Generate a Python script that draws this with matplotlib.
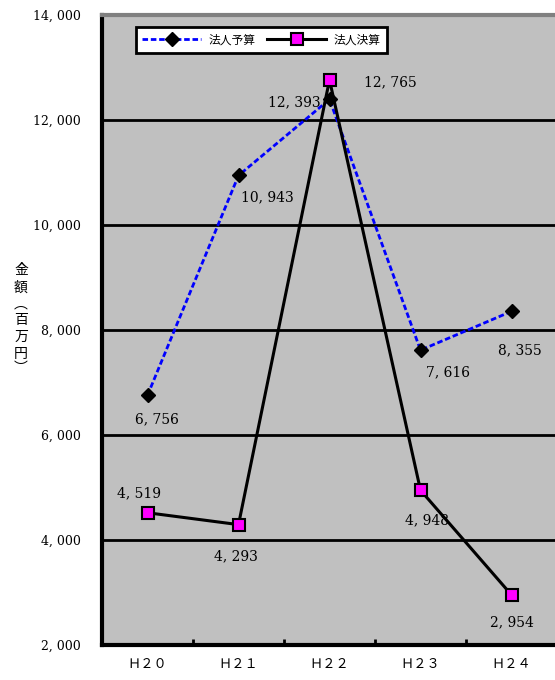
import matplotlib.pyplot as plt
import numpy as np

years = ["Ｈ２０", "Ｈ２１", "Ｈ２２", "Ｈ２３", "Ｈ２４"]
budget = [6756, 10943, 12393, 7616, 8355]  # 法人予算
actual = [4519, 4293, 12765, 4948, 2954]   # 法人決算
y_ticks = [2000, 4000, 6000, 8000, 10000, 12000, 14000]

jp = ["Noto Sans CJK JP", "DejaVu Sans"]
serif = ["DejaVu Serif"]

fig = plt.figure(figsize=(5.55, 6.8), dpi=100)
ax = fig.add_axes([102 / 555, 1 - 645 / 680, 455 / 555, 630 / 680])
ax.set_facecolor("#C0C0C0")

x = np.arange(len(years))
for yv in y_ticks[1:-1]:
    ax.axhline(yv, color="black", lw=2, zorder=1)

ax.plot(x, budget, color="#0000FF", ls=(0, (2, 1)), lw=2, marker="D",
        ms=7, mfc="black", mec="black", zorder=3, label="法人予算")
ax.plot(x, actual, color="black", lw=2.2, marker="s", ms=9,
        mfc="#FF00FF", mec="black", mew=1.5, zorder=4, label="法人決算")

ax.set_xlim(-0.5, 4.5)
ax.set_ylim(2000, 14000)
ax.set_yticks(y_ticks)
ax.set_yticklabels([f"{v:,}".replace(",", ", ") for v in y_ticks],
                   family=serif, fontsize=9)
ax.tick_params(axis="y", length=0, pad=15)
ax.set_xticks(x)
ax.set_xticklabels(years, family=jp, fontsize=9.5)
ax.tick_params(axis="x", length=0, pad=9)
ax.set_xticks(np.arange(0.5, 4.5, 1), minor=True)
ax.tick_params(axis="x", which="minor", direction="in", length=4, width=2)

for side in ["left", "bottom"]:
    ax.spines[side].set_linewidth(3)
ax.spines["top"].set_color("#808080")
ax.spines["top"].set_linewidth(3)
ax.spines["right"].set_visible(False)

def lab(v):
    return f"{v:,}".replace(",", ", ")

# data labels: (dx, dy) in points
b_off = [(7, -17), (21, -16), (-25, -2), (20, -16), (6, -28)]
a_off = [(-6, 14), (-2, -23), (44, -2), (5, -22), (0, -20)]
for i in range(len(years)):
    ax.annotate(lab(budget[i]), (x[i], budget[i]), xytext=b_off[i],
                textcoords="offset points", ha="center", va="center",
                family=serif, fontsize=10, zorder=5)
    ax.annotate(lab(actual[i]), (x[i], actual[i]), xytext=a_off[i],
                textcoords="offset points", ha="center", va="center",
                family=serif, fontsize=10, zorder=5)

leg = ax.legend(loc="upper left", bbox_to_anchor=(28 / 455, 1 - 6 / 630),
                ncol=2, prop={"family": jp, "size": 8.5}, frameon=True,
                fancybox=False, edgecolor="black", facecolor="white",
                framealpha=1, handlelength=5, handletextpad=0.6,
                columnspacing=1.0, borderpad=0.55)
leg.get_frame().set_linewidth(2)

# vertical y-axis label 金額（百万円）
ylab = [("金", 270, 0), ("額", 288, 0), ("︵", 304, 0), ("百", 320, 0),
        ("万", 337, 0), ("円", 354, 0), ("︶", 368, 0)]
for ch, py, rot in ylab:
    fig.text(21 / 555, 1 - py / 680, ch, family=jp, fontsize=10,
             ha="center", va="center", rotation=rot)

fig.savefig("out.png", dpi=100)
